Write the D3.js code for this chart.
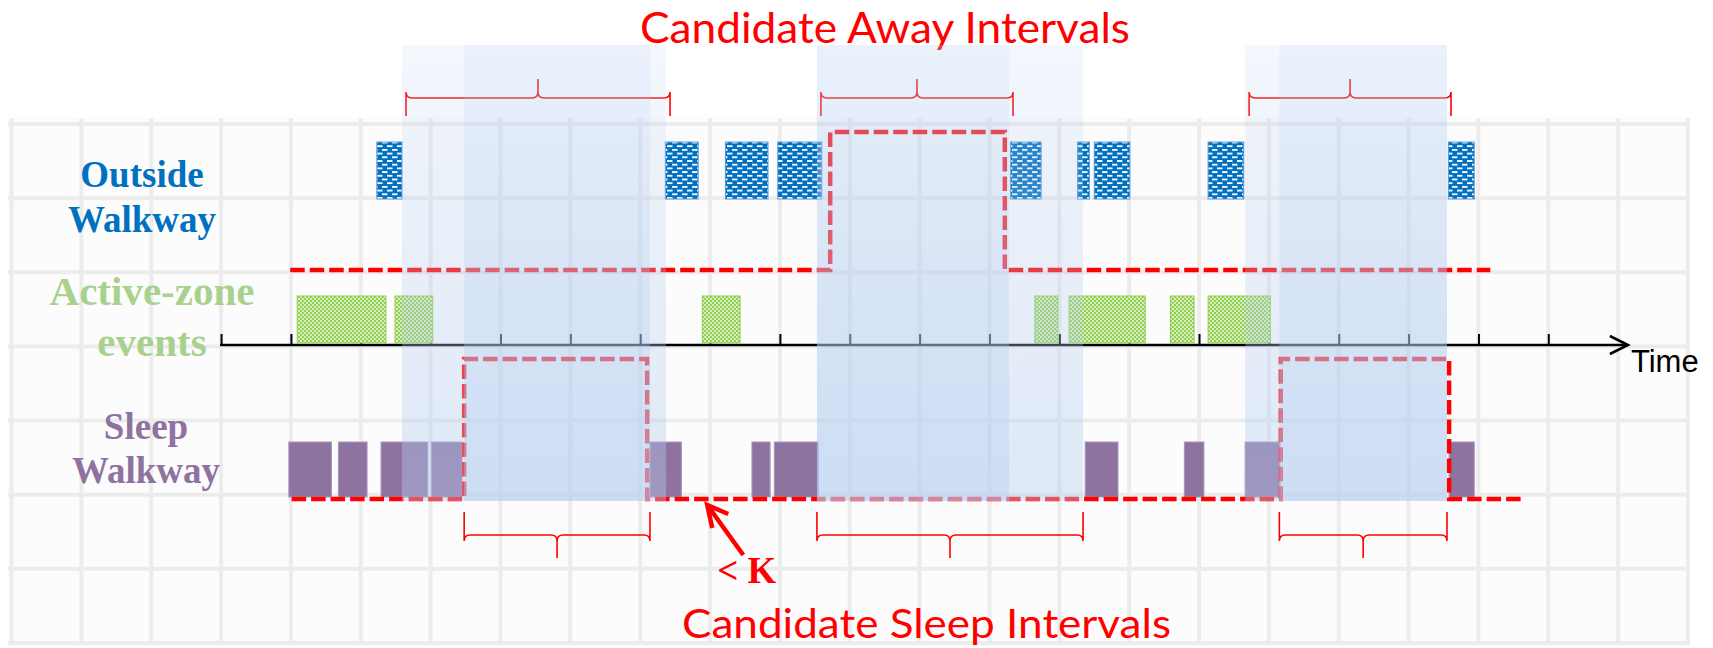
<!doctype html>
<html>
<head>
<meta charset="utf-8">
<title>Candidate Away / Sleep Intervals</title>
<style>
  body { margin: 0; background: #ffffff; }
  svg { display: block; }
</style>
</head>
<body>
<div id="chart"></div>
<script src="https://d3js.org/d3.v7.min.js"></script>
<script>
// time is measured in grid columns (one column = one time unit)
var outsideEvents = [[5.23, 5.59], [9.36, 9.83], [10.22, 10.83], [10.97, 11.6], [14.3, 14.74],
                     [15.26, 15.43], [15.5, 16.01], [17.13, 17.64], [20.57, 20.94]];
var activeEvents  = [[4.09, 5.36], [5.49, 6.03], [9.89, 10.43], [14.65, 14.98], [15.14, 16.23],
                     [16.59, 16.93], [17.13, 18.02]];
var sleepEvents   = [[3.97, 4.58], [4.68, 5.09], [5.29, 5.96], [6.01, 6.45], [9.14, 9.59],
                     [10.6, 10.86], [10.92, 11.55], [15.37, 15.84], [16.79, 17.07], [17.66, 18.16],
                     [20.58, 20.94]];
var awayIntervals  = [[5.59, 9.37], [11.53, 14.28], [17.66, 20.55]];
var sleepIntervals = [[6.48, 9.14], [11.53, 15.34], [18.15, 20.55]];
// step lines: [time, level] (level 1 = raised)
var awayStep  = [[3.99, 0], [11.72, 1], [14.22, 0], [21.17, 0]];
var sleepStep = [[4.01, 0], [6.48, 1], [9.1, 0], [18.17, 1], [20.58, 0], [21.64, 0]];
var tickValues = d3.range(3, 23);
var axisEnd = 23.14;
var gapMark = 9.96;
var rowNames = [["Outside", "Walkway"], ["Active-zone", "events"], ["Sleep", "Walkway"]];
var topTitle = "Candidate Away Intervals";
var bottomTitle = "Candidate Sleep Intervals";
var gapLabel = "< K";
var axisLabel = "Time";

var W = 1713, H = 648;

var x = d3.scaleLinear().domain([0, 24]).range([11.5, 1688]);
var gy = d3.scaleLinear().domain([0, 7]).range([124, 643]);
var awayY = d3.scaleLinear().domain([0, 1]).range([270, 132]);
var sleepY = d3.scaleLinear().domain([0, 1]).range([499, 359]);

var svg = d3.select("#chart").append("svg")
  .attr("width", W)
  .attr("height", H);

var defs = svg.append("defs");

// brick pattern for outside walkway
var pb = defs.append("pattern").attr("id", "brick")
  .attr("patternUnits", "userSpaceOnUse").attr("width", 10).attr("height", 7.4);
pb.append("rect").attr("width", 10).attr("height", 7.4).attr("fill", "#0070c0");
[[2, 1], [7, 4.7], [-3, 4.7]].forEach(function(p) {
  pb.append("rect").attr("x", p[0]).attr("y", p[1]).attr("width", 5.5).attr("height", 1.8).attr("fill", "#ffffff");
});

// checker pattern for active zone
var pc = defs.append("pattern").attr("id", "checker")
  .attr("patternUnits", "userSpaceOnUse").attr("width", 4).attr("height", 4);
pc.append("rect").attr("width", 4).attr("height", 4).attr("fill", "#92d050");
[[0.2, 0.2], [2.2, 2.2]].forEach(function(p) {
  pc.append("rect").attr("x", p[0]).attr("y", p[1]).attr("width", 1.6).attr("height", 1.6).attr("fill", "#ffffff");
});

// translucent blue shading of the intervals
var sh = defs.append("linearGradient").attr("id", "shade")
  .attr("x1", 0).attr("y1", 0).attr("x2", 0).attr("y2", 1);
sh.append("stop").attr("offset", "0%").attr("stop-color", "rgb(180,205,240)").attr("stop-opacity", 0.15);
sh.append("stop").attr("offset", "100%").attr("stop-color", "rgb(180,205,240)").attr("stop-opacity", 0.42);

// grid
svg.append("rect").attr("x", 8).attr("y", 118).attr("width", 1682).attr("height", 528).attr("fill", "#fcfcfc");
svg.append("g").selectAll("line").data(d3.range(0, 25)).enter().append("line")
  .attr("x1", function(d) { return x(d); }).attr("x2", function(d) { return x(d); })
  .attr("y1", 118).attr("y2", 645)
  .attr("stroke", "#ececec").attr("stroke-width", 4);
svg.append("g").selectAll("line").data(d3.range(0, 8)).enter().append("line")
  .attr("x1", 8).attr("x2", 1690)
  .attr("y1", function(d) { return gy(d); }).attr("y2", function(d) { return gy(d); })
  .attr("stroke", "#ececec").attr("stroke-width", 4);

// row labels
var labelPos = [
  {x: 142, y: [187, 232], size: 37, color: "#0070c0"},
  {x: 152, y: [305, 356], size: 41, color: "#a9d18e"},
  {x: 146, y: [439, 483], size: 37, color: "#8e729f"}
];
rowNames.forEach(function(lines, i) {
  var p = labelPos[i];
  lines.forEach(function(t, j) {
    svg.append("text")
      .attr("x", p.x).attr("y", p.y[j])
      .attr("text-anchor", "middle")
      .style("font-family", "'Liberation Serif', 'Times New Roman', serif")
      .style("font-weight", "bold")
      .style("font-size", p.size + "px")
      .attr("fill", p.color)
      .text(t);
  });
});

// time axis
var axisY = 345;
var axis = svg.append("g")
  .attr("transform", "translate(0," + axisY + ")")
  .call(d3.axisTop(x).tickValues(tickValues).tickSize(11).tickSizeOuter(0).tickFormat(""));
axis.select(".domain").remove();
axis.selectAll(".tick line").attr("stroke", "#000").attr("stroke-width", 2);
svg.append("line")
  .attr("x1", x(3) - 1).attr("x2", x(axisEnd))
  .attr("y1", axisY).attr("y2", axisY)
  .attr("stroke", "#000").attr("stroke-width", 2.6);
svg.append("path")
  .attr("d", "M" + (x(axisEnd) - 18) + "," + (axisY - 9) + "L" + x(axisEnd) + "," + axisY + "L" + (x(axisEnd) - 18) + "," + (axisY + 9))
  .attr("fill", "none").attr("stroke", "#000").attr("stroke-width", 2.6);
svg.append("text")
  .attr("x", x(axisEnd) + 3).attr("y", 372)
  .style("font-family", "'Liberation Sans', Arial, sans-serif")
  .style("font-size", "31px")
  .attr("fill", "#000")
  .text(axisLabel);

// event bars
function drawBars(data, top, bottom, fill, stroke) {
  svg.append("g").selectAll("rect").data(data).enter().append("rect")
    .attr("x", function(d) { return x(d[0]); })
    .attr("width", function(d) { return x(d[1]) - x(d[0]); })
    .attr("y", top)
    .attr("height", bottom - top)
    .attr("fill", fill)
    .attr("stroke", stroke)
    .attr("stroke-width", 1);
}
drawBars(outsideEvents, 142, 199, "url(#brick)", "#5b9bd5");
drawBars(activeEvents, 296, 343, "url(#checker)", "#92d050");
drawBars(sleepEvents, 442, 497, "#8e72a0", "#a898bd");

// threshold step lines
function drawStep(data, ys) {
  var line = d3.line()
    .x(function(d) { return x(d[0]); })
    .y(function(d) { return ys(d[1]); })
    .curve(d3.curveStepAfter);
  svg.append("path")
    .attr("d", line(data))
    .attr("fill", "none")
    .attr("stroke", "#ff0000")
    .attr("stroke-width", 4.5)
    .attr("stroke-dasharray", "14.5 5");
}
drawStep(awayStep, awayY);
drawStep(sleepStep, sleepY);

// curly braces
function bracePath(x0, x1, yEnd, yLine, yTip) {
  var s = yTip < yLine ? -1 : 1, r = 6, xm = (x0 + x1) / 2;
  return "M" + x0 + "," + yEnd +
    "L" + x0 + "," + (yLine + s * r) +
    "Q" + x0 + "," + yLine + " " + (x0 + r) + "," + yLine +
    "L" + (xm - r) + "," + yLine +
    "Q" + xm + "," + yLine + " " + xm + "," + (yLine + s * r) +
    "L" + xm + "," + yTip +
    "L" + xm + "," + (yLine + s * r) +
    "Q" + xm + "," + yLine + " " + (xm + r) + "," + yLine +
    "L" + (x1 - r) + "," + yLine +
    "Q" + x1 + "," + yLine + " " + x1 + "," + (yLine + s * r) +
    "L" + x1 + "," + yEnd;
}
svg.append("g").selectAll("path").data(awayIntervals).enter().append("path")
  .attr("d", function(d) { return bracePath(x(d[0]) + 4, x(d[1]) + 4, 116, 98, 79); })
  .attr("fill", "none").attr("stroke", "#ff0000").attr("stroke-width", 1.6);
svg.append("g").selectAll("path").data(sleepIntervals).enter().append("path")
  .attr("d", function(d) { return bracePath(x(d[0]), x(d[1]), 512, 535, 558); })
  .attr("fill", "none").attr("stroke", "#ff0000").attr("stroke-width", 1.6);

// "< K" gap annotation
var tipX = x(gapMark), tipY = 505;
svg.append("path")
  .attr("d", "M" + (tipX + 36) + "," + (tipY + 50) + "L" + tipX + "," + tipY +
             "M" + (tipX + 5) + "," + (tipY + 23) + "L" + tipX + "," + tipY + "L" + (tipX + 21) + "," + (tipY + 9))
  .attr("fill", "none").attr("stroke", "#ff0000").attr("stroke-width", 4.5)
  .attr("stroke-linecap", "butt").attr("stroke-linejoin", "miter");
svg.append("text")
  .attr("x", tipX + 10).attr("y", 583)
  .style("font-family", "'Liberation Serif', 'Times New Roman', serif")
  .style("font-weight", "bold")
  .style("font-size", "37px")
  .attr("fill", "#ff0000")
  .text(gapLabel);

// titles
svg.append("text")
  .attr("x", 640).attr("y", 43)
  .attr("textLength", 490).attr("lengthAdjust", "spacingAndGlyphs")
  .style("font-family", "Lato, 'Open Sans', sans-serif")
  .style("font-size", "42px")
  .attr("fill", "#ff0000")
  .text(topTitle);
svg.append("text")
  .attr("x", 682).attr("y", 638)
  .attr("textLength", 489).attr("lengthAdjust", "spacingAndGlyphs")
  .style("font-family", "Lato, 'Open Sans', sans-serif")
  .style("font-size", "40px")
  .attr("fill", "#ff0000")
  .text(bottomTitle);

// shaded intervals on top of everything
svg.append("g").selectAll("rect").data(awayIntervals.concat(sleepIntervals)).enter().append("rect")
  .attr("x", function(d) { return x(d[0]); })
  .attr("width", function(d) { return x(d[1]) - x(d[0]); })
  .attr("y", 45)
  .attr("height", 456)
  .attr("fill", "url(#shade)");
</script>
</body>
</html>
